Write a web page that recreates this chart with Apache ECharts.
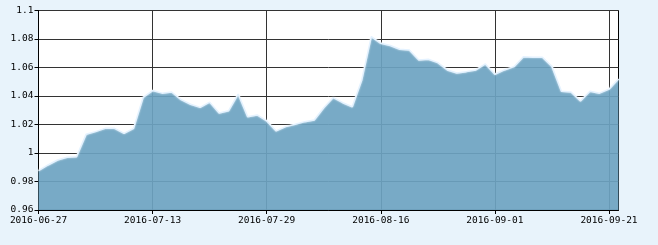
<!DOCTYPE html>
<html>
<head>
<meta charset="utf-8">
<script src="https://cdn.jsdelivr.net/npm/echarts@6/dist/echarts.min.js"></script>
<style>
html,body{margin:0;padding:0;background:#e8f3fb;}
#chart{width:658px;height:245px;}
</style>
</head>
<body>
<div id="chart"></div>
<script>
var categories = [
  '2016-06-27','2016-06-28','2016-06-29','2016-06-30',
  '2016-07-01','2016-07-04','2016-07-05','2016-07-06','2016-07-07','2016-07-08','2016-07-11','2016-07-12','2016-07-13','2016-07-14','2016-07-15','2016-07-18','2016-07-19','2016-07-20','2016-07-21','2016-07-22','2016-07-25','2016-07-26','2016-07-27','2016-07-28','2016-07-29',
  '2016-08-01','2016-08-02','2016-08-03','2016-08-04','2016-08-05','2016-08-08','2016-08-09','2016-08-10','2016-08-11','2016-08-12','2016-08-15','2016-08-16','2016-08-17','2016-08-18','2016-08-19','2016-08-22','2016-08-23','2016-08-24','2016-08-25','2016-08-26','2016-08-29','2016-08-30','2016-08-31',
  '2016-09-01','2016-09-02','2016-09-05','2016-09-06','2016-09-07','2016-09-08','2016-09-09','2016-09-12','2016-09-13','2016-09-14','2016-09-19','2016-09-20','2016-09-21','2016-09-22'
];
var values = [
  0.9876, 0.9916, 0.9951, 0.997, 0.9974, 1.0131, 1.015, 1.0173, 1.0173, 1.0138,
  1.0173, 1.039, 1.0438, 1.042, 1.0428, 1.0375, 1.0342, 1.032, 1.0357, 1.028,
  1.0297, 1.0414, 1.0255, 1.0267, 1.0225, 1.0155, 1.0185, 1.0202, 1.022, 1.0232,
  1.0318, 1.0389, 1.0353, 1.0325, 1.0513, 1.0817, 1.077, 1.0754, 1.0728, 1.0723,
  1.0653, 1.0658, 1.0634, 1.0583, 1.0562, 1.0571, 1.0583, 1.0625, 1.0553, 1.0583,
  1.0606, 1.0676, 1.0672, 1.0672, 1.0608, 1.0433, 1.0428, 1.0365, 1.0434, 1.042,
  1.0448, 1.052
];
var yMin = 0.96, yMax = 1.1, yStep = 0.02;

var chart = echarts.init(document.getElementById('chart'), null, {renderer: 'canvas'});
var font = 'DejaVu Sans Mono';
chart.setOption({
  animation: false,
  backgroundColor: '#e8f3fb',
  grid: {
    left: 38.5, right: 39.5, top: 10.5, bottom: 35,
    show: true, backgroundColor: '#ffffff', borderColor: '#000000', borderWidth: 1
  },
  xAxis: {
    type: 'category',
    data: categories,
    boundaryGap: false,
    axisLine: {lineStyle: {color: '#000000', width: 1}},
    axisTick: {show: true, interval: 11, length: 4, lineStyle: {color: '#000000'}},
    axisLabel: {interval: 11, color: '#000000', fontFamily: font, fontSize: 9.5, margin: 6},
    splitLine: {show: true, interval: 11, lineStyle: {color: '#333333', width: 1}}
  },
  yAxis: {
    type: 'value',
    min: yMin, max: yMax, interval: yStep,
    axisLine: {show: true, lineStyle: {color: '#000000', width: 1}},
    axisTick: {show: true, length: 4, lineStyle: {color: '#000000'}},
    axisLabel: {
      color: '#000000', fontFamily: font, fontSize: 9.5, margin: 5,
      formatter: function (v) { return String(parseFloat(v.toFixed(2))); }
    },
    splitLine: {show: true, lineStyle: {color: '#333333', width: 1}}
  },
  series: [{
    type: 'line',
    data: values,
    symbol: 'none',
    smooth: false,
    lineStyle: {color: '#e4f2ff', width: 1.5, shadowColor: 'rgba(255,255,255,0.8)', shadowBlur: 2},
    areaStyle: {color: 'rgb(108,163,193)', opacity: 0.92}
  }]
});
</script>
</body>
</html>
